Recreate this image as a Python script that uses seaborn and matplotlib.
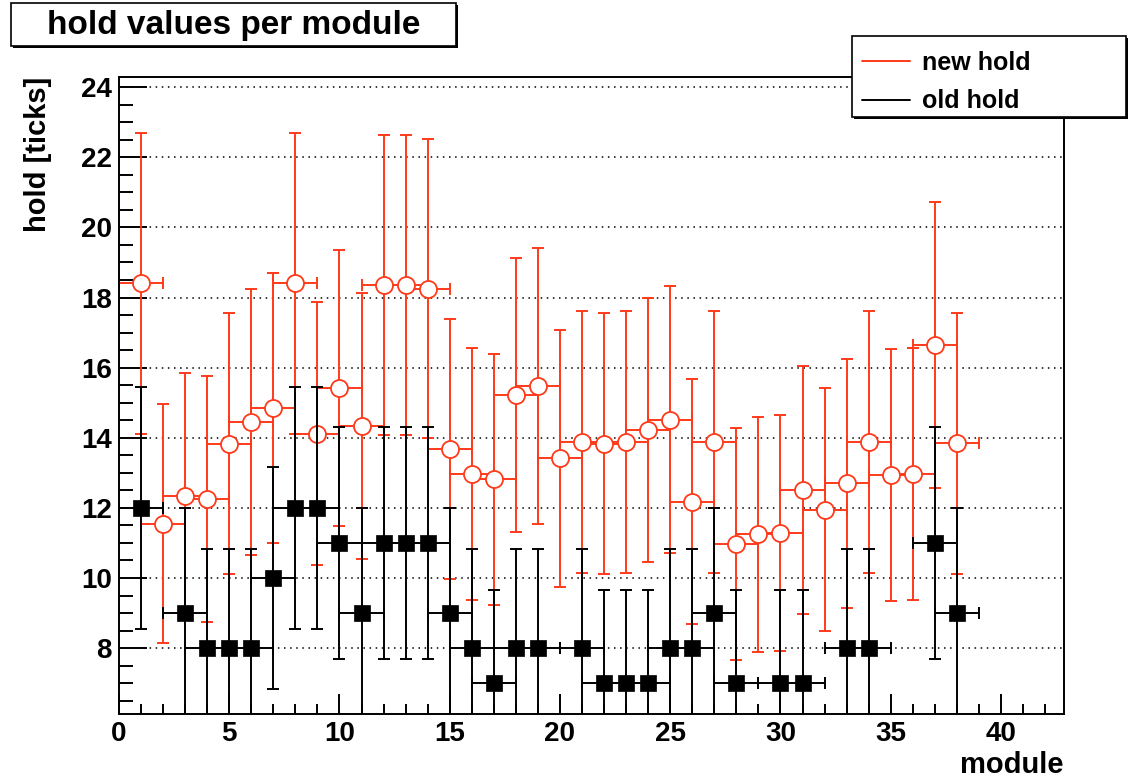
import matplotlib
matplotlib.use("Agg")
import matplotlib.pyplot as plt
from matplotlib.patches import Rectangle
from matplotlib.lines import Line2D
from matplotlib.ticker import MultipleLocator
import numpy as np
import pandas as pd
import seaborn as sns

# ---- data -------------------------------------------------------------
modules_new = list(range(1, 39))
new_hold = [18.41, 11.55, 12.35, 12.25, 13.83, 14.45, 14.86, 18.41, 14.12, 15.42,
            14.33, 18.35, 18.35, 18.25, 13.68, 12.97, 12.81, 15.22, 15.47, 13.41,
            13.88, 13.83, 13.88, 14.22, 14.52, 12.18, 13.88, 10.98, 11.25, 11.28,
            12.52, 11.95, 12.70, 13.88, 12.93, 12.97, 16.65, 13.84]
new_err = [4.29, 3.40, 3.51, 3.50, 3.72, 3.80, 3.85, 4.29, 3.76, 3.93,
           3.79, 4.28, 4.28, 4.27, 3.70, 3.60, 3.58, 3.90, 3.93, 3.66,
           3.73, 3.72, 3.73, 3.77, 3.81, 3.49, 3.73, 3.31, 3.35, 3.36,
           3.54, 3.46, 3.56, 3.73, 3.60, 3.60, 4.08, 3.72]

modules_old = [1, 3, 4, 5, 6, 7, 8, 9, 10, 11, 12, 13, 14, 15, 16, 17, 18, 19,
               21, 22, 23, 24, 25, 26, 27, 28, 30, 31, 33, 34, 37, 38]
old_hold = [12, 9, 8, 8, 8, 10, 12, 12, 11, 9, 11, 11, 11, 9, 8, 7, 8, 8,
            8, 7, 7, 7, 8, 8, 9, 7, 7, 7, 8, 8, 11, 9]
old_err = [3.46, 3.00, 2.83, 2.83, 2.83, 3.16, 3.46, 3.46, 3.32, 3.00, 3.32, 3.32,
           3.32, 3.00, 2.83, 2.65, 2.83, 2.83, 2.83, 2.65, 2.65, 2.65, 2.83, 2.83,
           3.00, 2.65, 2.65, 2.65, 2.83, 2.83, 3.32, 3.00]

module_halfwidth = 1.0

x_ticks = [0, 5, 10, 15, 20, 25, 30, 35, 40]
y_ticks = [8, 10, 12, 14, 16, 18, 20, 22, 24]

title = "hold values per module"
series_labels = ["new hold", "old hold"]

df_new = pd.DataFrame({"module": modules_new, "hold": new_hold, "err": new_err})
df_old = pd.DataFrame({"module": modules_old, "hold": old_hold, "err": old_err})

# ---- style ------------------------------------------------------------
sns.set_style("ticks")
plt.rcParams["font.family"] = ["Liberation Sans", "DejaVu Sans"]
plt.rcParams["font.weight"] = "bold"
plt.rcParams["axes.labelweight"] = "bold"
plt.rcParams["text.color"] = "black"
plt.rcParams["axes.labelcolor"] = "black"
plt.rcParams["xtick.color"] = "black"
plt.rcParams["ytick.color"] = "black"
plt.rcParams["xtick.labelcolor"] = "black"
plt.rcParams["ytick.labelcolor"] = "black"

RED = "#ff3a1a"
W, H = 1130, 778
LW = 1.4

fig = plt.figure(figsize=(W / 100, H / 100), dpi=100)
ax = fig.add_axes([119 / W, 1 - 714 / H, (1064 - 119) / W, (714 - 77) / H])

# new hold: open circles with error bars
ax.errorbar(df_new["module"], df_new["hold"], xerr=module_halfwidth, yerr=df_new["err"],
            fmt="none", ecolor=RED, elinewidth=LW, capsize=4, capthick=LW, zorder=2)
sns.scatterplot(data=df_new, x="module", y="hold", marker="o", s=150, color="white",
                edgecolor=RED, linewidth=1.3, zorder=3, ax=ax)

# old hold: filled squares with error bars
ax.errorbar(df_old["module"], df_old["hold"], xerr=module_halfwidth, yerr=df_old["err"],
            fmt="none", ecolor="black", elinewidth=LW, capsize=4, capthick=LW, zorder=4)
sns.scatterplot(data=df_old, x="module", y="hold", marker="s", s=118, color="black",
                edgecolor="black", linewidth=0.5, zorder=5, ax=ax)

# axes ranges and ticks
ax.set_xlim(0, 42.86)
ax.set_ylim(6.12, 24.29)
ax.set_xticks(x_ticks)
ax.set_yticks(y_ticks)
ax.xaxis.set_minor_locator(MultipleLocator(1))
ax.yaxis.set_minor_locator(MultipleLocator(0.5))
ax.tick_params(axis="x", which="major", direction="in", length=14.5, width=LW,
               top=False, labelsize=20, pad=5, color="black", labelcolor="black")
ax.tick_params(axis="x", which="minor", direction="in", length=7.5, width=LW,
               top=False, color="black")
ax.tick_params(axis="y", which="major", direction="in", length=20, width=LW,
               right=False, labelsize=20, pad=5, color="black", labelcolor="black")
ax.tick_params(axis="y", which="minor", direction="in", length=10, width=LW,
               right=False, color="black")
for lab in ax.get_xticklabels() + ax.get_yticklabels():
    lab.set_fontweight("bold")

ax.set_axisbelow(True)
ax.yaxis.grid(True, which="major", color="black", linestyle=(0, (1, 3)), linewidth=1.1)
ax.xaxis.grid(False)
for sp in ax.spines.values():
    sp.set_visible(True)
    sp.set_color("black")
    sp.set_linewidth(LW)

ax.set_xlabel("module", fontsize=21, fontweight="bold", loc="right", color="black")
ax.xaxis.set_label_coords(1.0, -0.058)
ax.set_ylabel("hold [ticks]", fontsize=21, fontweight="bold", loc="top", color="black")
ax.yaxis.set_label_coords(-0.071, 1.0)

# ---- title pave ------------------------------------------------------
def pave(x0, y0, x1, y1, z):
    """Boxed panel in pixel coordinates (origin top-left) with a small shadow."""
    fig.add_artist(Rectangle(((x0 + 2) / W, 1 - (y1 + 2) / H), (x1 - x0) / W, (y1 - y0) / H,
                             transform=fig.transFigure, facecolor="black",
                             edgecolor="black", lw=0, zorder=z))
    fig.add_artist(Rectangle((x0 / W, 1 - y1 / H), (x1 - x0) / W, (y1 - y0) / H,
                             transform=fig.transFigure, facecolor="white",
                             edgecolor="black", lw=1.2, zorder=z + 0.1))

pave(11, 3, 456, 46, 10)
fig.text(234 / W, 1 - 25.5 / H, title, ha="center", va="center", fontsize=24,
         fontweight="bold", color="black", zorder=11)

# ---- legend ------------------------------------------------------------
pave(852, 36, 1126, 117, 10)
handles = [Line2D([], [], color=RED, lw=LW), Line2D([], [], color="black", lw=LW)]
leg = fig.legend(handles, series_labels, loc="center left",
                 bbox_to_anchor=(862 / W, 1 - 82 / H), frameon=False,
                 prop={"size": 18, "weight": "bold"}, handlelength=1.9,
                 handletextpad=0.5, labelspacing=0.58, borderpad=0, borderaxespad=0)
for t in leg.get_texts():
    t.set_color("black")
leg.set_zorder(12)

fig.savefig("out.png", dpi=100)
